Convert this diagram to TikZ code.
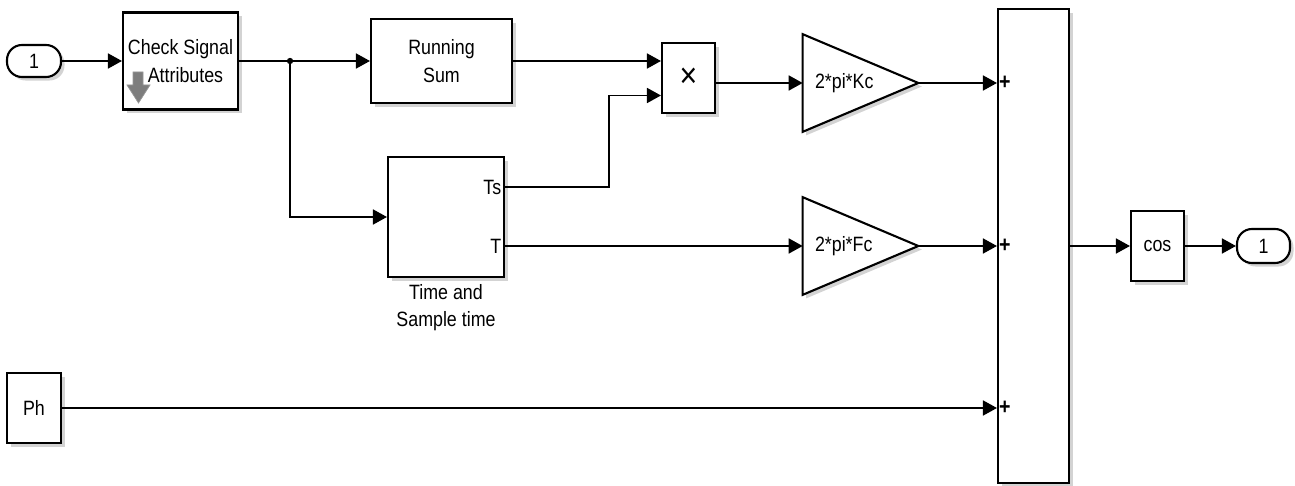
\documentclass[tikz,border=0pt]{standalone}
\usepackage{fontspec}
\setmainfont{Liberation Sans}[FakeStretch=0.86]
\usepackage{tikz}
\usetikzlibrary{positioning,arrows.meta,calc,shadows,backgrounds}
\definecolor{icongray}{RGB}{125,125,125}
\tikzset{
    blk/.style={
        rectangle,
        draw=black,
        fill=white,
        line width=1.2pt,
        inner sep=2pt,
        align=center,
        font=\fontsize{11.8}{15.5}\selectfont,
        drop shadow={shadow xshift=2pt,shadow yshift=-2pt,opacity=0.35}
    },
    port/.style={
        blk,
        rounded corners=0.3cm
    },
    gain/.style={
        rectangle,
        minimum width=2.3cm,
        minimum height=1.94cm,
        text width=1.82cm,
        inner xsep=0.24cm,
        align=left,
        font=\fontsize{11.8}{15.5}\selectfont
    },
    tri/.style={
        draw=black,
        fill=white,
        line width=1.2pt,
        line join=miter,
        drop shadow={shadow xshift=2pt,shadow yshift=-2pt,opacity=0.35}
    },
    plus/.style={anchor=west,inner sep=1pt,font=\bfseries\fontsize{13}{13}\selectfont},
    lbl/.style={inner sep=2pt,align=center,font=\fontsize{11.8}{15.5}\selectfont},
    sig/.style={-{Triangle[length=0.28cm,width=0.3cm]},line width=1pt}
}
\begin{document}
\begin{tikzpicture}[x=0.02cm,y=-0.02cm]
\useasboundingbox (0,0) rectangle (1295,486);
\node[port,minimum width=1.08cm,minimum height=0.64cm] (in1) at (34,61) {1};
\node[blk,minimum width=2.3cm,minimum height=1.94cm] (chk) at (180.5,61) {Check Signal\\\hspace*{0.2cm}Attributes};
\node[blk,minimum width=2.82cm,minimum height=1.68cm] (rsum) at (441.5,61) {Running\\Sum};
\node[blk,minimum width=1.06cm,minimum height=1.4cm,font=\fontsize{20}{20}\selectfont] (prod) at (688.5,78) {×};
\node[blk,minimum width=2.32cm,minimum height=2.4cm] (tsb) at (446,217) {};
\node[lbl,below=0.05cm of tsb] (tsbname) {Time and\\Sample time};
\node[blk,minimum width=1.08cm,minimum height=1.4cm] (ph) at (34,408) {Ph};
\node[gain] (kc) at (860.5,83) {2*pi*Kc};
\node[gain] (fc) at (860.5,246) {2*pi*Fc};
\node[blk,minimum width=1.42cm,minimum height=9.48cm] (sum) at (1033.5,246) {};
\node[blk,minimum width=1.06cm,minimum height=1.4cm] (cos) at (1157.5,246) {cos};
\node[port,minimum width=1.06cm,minimum height=0.68cm] (out1) at (1263.5,246) {1};
\begin{pgfonlayer}{background}
\draw[tri] (kc.north west) -- (kc.east) -- (kc.south west) -- cycle;
\draw[tri] (fc.north west) -- (fc.east) -- (fc.south west) -- cycle;
\end{pgfonlayer}
\draw[fill=icongray,draw=icongray!80] (133,72) -- (143,72) -- (143,85) -- (150,85) -- (138.5,103) -- (127,85) -- (133,85) -- cycle;
\coordinate (br) at (290,61);
\coordinate (tsp) at ($(tsb.east)+(0,0.6cm)$);
\coordinate (tp) at ($(tsb.east)+(0,-0.58cm)$);
\coordinate (pin2) at ($(prod.west)+(0,-0.35cm)$);
\node[lbl,anchor=east] (tslbl) at (tsp) {Ts};
\node[lbl,anchor=east] (tlbl) at (tp) {T};
\node[plus] (p1) at (kc.east -| sum.west) {+};
\node[plus] (p2) at (fc.east -| sum.west) {+};
\node[plus] (p3) at (ph.east -| sum.west) {+};
\draw[sig] (in1) -- (chk);
\draw[sig] (chk) -- (rsum);
\fill (br) circle (1.8pt);
\draw[sig] (br) |- (tsb.west);
\draw[sig] (rsum.east) -- (rsum.east -| prod.west);
\draw[sig] (tsp) -- ++(2.08cm,0) |- (pin2);
\draw[sig] (prod.east |- kc.west) -- (kc.west);
\draw[sig] (tp) -- (tp -| fc.west);
\draw[sig] (kc.east) -- (kc.east -| sum.west);
\draw[sig] (fc.east) -- (fc.east -| sum.west);
\draw[sig] (ph.east) -- (ph.east -| sum.west);
\draw[sig] (sum.east |- cos.west) -- (cos.west);
\draw[sig] (cos) -- (out1);
\end{tikzpicture}
\end{document}
